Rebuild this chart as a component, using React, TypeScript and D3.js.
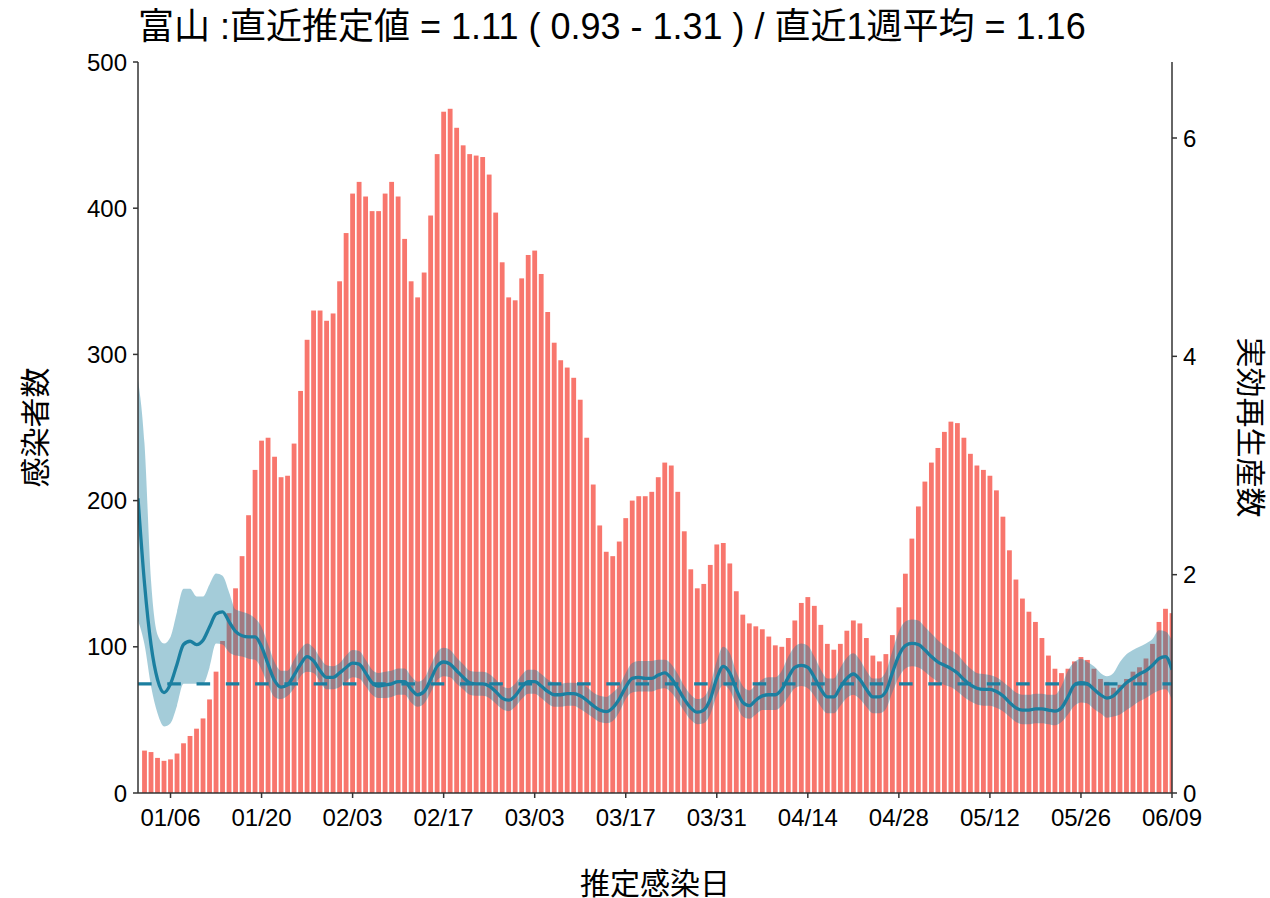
import React from "react";
import * as d3 from "d3";

// daily case counts by estimated infection date (2022), first bar = Jan 2
const casesJan = [29, 28, 24, 22, 23, 27, 34, 39, 44, 51, 64, 83, 104, 123, 140, 162, 190, 221, 241, 243, 230, 216, 217, 239, 275, 310, 330, 330, 323, 328];
const casesFeb = [350, 383, 410, 418, 408, 398, 398, 410, 418, 408, 379, 350, 339, 356, 395, 437, 466, 468, 455, 443, 437, 436, 435, 423, 397, 363, 339, 337];
const casesMar = [352, 368, 371, 355, 329, 308, 296, 291, 284, 269, 243, 211, 183, 165, 162, 172, 188, 200, 203, 203, 206, 216, 226, 224, 206, 179, 153, 140, 143, 156, 170];
const casesApr = [171, 157, 138, 122, 116, 114, 112, 107, 101, 100, 106, 118, 130, 134, 128, 115, 102, 98, 102, 111, 118, 116, 106, 94, 90, 95, 108, 127, 150, 174];
const casesMay = [196, 213, 226, 236, 247, 254, 253, 243, 232, 224, 221, 217, 207, 189, 166, 146, 133, 124, 117, 106, 94, 85, 82, 85, 90, 93, 91, 85, 78, 76, 72];
const casesJun = [74, 78, 83, 86, 92, 102, 117, 126, 123];

// effective reproduction number, daily from Jan 1 to Jun 9
const rtMid = [
  2.70, 1.92, 1.36, 1.04, 0.92, 1.00, 1.18, 1.36, 1.39, 1.36, 1.40, 1.52, 1.64, 1.66, 1.57, 1.48, 1.44, 1.43, 1.43, 1.34, 1.18, 1.03, 0.97, 0.99, 1.08, 1.18, 1.25, 1.21, 1.12, 1.06, 1.06,
  1.10, 1.15, 1.19, 1.18, 1.10, 1.01, 0.98, 0.99, 1.00, 1.02, 1.02, 0.95, 0.90, 0.93, 1.04, 1.16, 1.20, 1.18, 1.12, 1.06, 1.01, 1.00, 1.00, 0.98, 0.93, 0.87, 0.85, 0.89,
  0.97, 1.02, 1.02, 0.98, 0.93, 0.90, 0.90, 0.91, 0.91, 0.89, 0.85, 0.80, 0.76, 0.745, 0.78, 0.86, 0.97, 1.05, 1.06, 1.05, 1.05, 1.08, 1.10, 1.05, 0.96, 0.86, 0.78, 0.74, 0.76, 0.86, 1.05,
  1.16, 1.10, 0.95, 0.83, 0.80, 0.85, 0.89, 0.90, 0.90, 0.95, 1.06, 1.15, 1.17, 1.15, 1.06, 0.95, 0.88, 0.88, 0.97, 1.05, 1.09, 1.04, 0.95, 0.88, 0.88, 0.93, 1.10, 1.26, 1.35, 1.37,
  1.36, 1.31, 1.25, 1.20, 1.17, 1.14, 1.10, 1.04, 0.99, 0.96, 0.95, 0.95, 0.93, 0.89, 0.83, 0.78, 0.76, 0.76, 0.77, 0.77, 0.76, 0.75, 0.78, 0.88, 0.99, 1.01, 1.00, 0.95, 0.90, 0.87, 0.89,
  0.95, 1.01, 1.05, 1.09, 1.12, 1.17, 1.23, 1.25, 1.13,
];
const rtLow = [
  1.58, 1.36, 0.98, 0.73, 0.61, 0.64, 0.80, 1.00, 1.00, 1.00, 1.00, 1.15, 1.37, 1.36, 1.29, 1.26, 1.25, 1.23, 1.22, 1.13, 0.99, 0.88, 0.86, 0.89, 0.96, 1.07, 1.11, 1.10, 1.02, 0.95, 0.95,
  0.97, 1.02, 1.06, 1.05, 0.98, 0.90, 0.87, 0.87, 0.88, 0.90, 0.90, 0.83, 0.79, 0.82, 0.92, 1.03, 1.07, 1.06, 1.00, 0.95, 0.90, 0.89, 0.89, 0.87, 0.82, 0.77, 0.75, 0.79,
  0.86, 0.91, 0.91, 0.87, 0.82, 0.79, 0.79, 0.80, 0.80, 0.77, 0.73, 0.69, 0.65, 0.64, 0.66, 0.74, 0.86, 0.92, 0.93, 0.93, 0.93, 0.95, 0.96, 0.92, 0.84, 0.75, 0.67, 0.63, 0.64, 0.72, 0.89,
  0.99, 0.94, 0.81, 0.70, 0.68, 0.72, 0.76, 0.76, 0.76, 0.80, 0.88, 0.96, 0.98, 0.96, 0.89, 0.79, 0.73, 0.73, 0.80, 0.87, 0.90, 0.86, 0.79, 0.73, 0.73, 0.77, 0.92, 1.06, 1.14, 1.16,
  1.15, 1.11, 1.06, 1.02, 0.99, 0.97, 0.93, 0.88, 0.84, 0.81, 0.80, 0.80, 0.78, 0.75, 0.70, 0.65, 0.63, 0.63, 0.64, 0.64, 0.63, 0.62, 0.65, 0.72, 0.80, 0.83, 0.82, 0.77, 0.73, 0.69, 0.70,
  0.72, 0.76, 0.80, 0.84, 0.87, 0.91, 0.94, 0.95, 0.85,
];
const rtHigh = [
  3.78, 3.20, 1.95, 1.45, 1.37, 1.43, 1.66, 1.87, 1.87, 1.80, 1.80, 1.91, 2.01, 1.99, 1.84, 1.68, 1.66, 1.64, 1.60, 1.52, 1.36, 1.20, 1.12, 1.12, 1.22, 1.32, 1.37, 1.33, 1.24, 1.17, 1.16,
  1.19, 1.26, 1.31, 1.30, 1.22, 1.13, 1.10, 1.11, 1.12, 1.14, 1.14, 1.07, 1.02, 1.05, 1.17, 1.29, 1.33, 1.31, 1.24, 1.18, 1.12, 1.11, 1.11, 1.09, 1.04, 0.98, 0.96, 1.00,
  1.08, 1.13, 1.13, 1.09, 1.04, 1.01, 1.00, 1.01, 1.01, 1.00, 0.97, 0.92, 0.89, 0.88, 0.92, 0.98, 1.10, 1.19, 1.21, 1.21, 1.21, 1.22, 1.22, 1.18, 1.09, 0.98, 0.90, 0.86, 0.88, 0.99, 1.21,
  1.34, 1.28, 1.11, 0.98, 0.94, 0.99, 1.04, 1.06, 1.06, 1.12, 1.25, 1.34, 1.37, 1.35, 1.25, 1.13, 1.05, 1.05, 1.15, 1.24, 1.28, 1.22, 1.12, 1.05, 1.05, 1.11, 1.30, 1.48, 1.57, 1.59,
  1.58, 1.52, 1.46, 1.40, 1.35, 1.31, 1.27, 1.20, 1.14, 1.10, 1.09, 1.08, 1.06, 1.02, 0.97, 0.92, 0.90, 0.90, 0.91, 0.91, 0.90, 0.90, 0.98, 1.12, 1.20, 1.23, 1.20, 1.16, 1.10, 1.07, 1.10,
  1.20, 1.27, 1.31, 1.34, 1.37, 1.41, 1.49, 1.48, 1.40,
];

const xTickLabels = ["01/06", "01/20", "02/03", "02/17", "03/03", "03/17", "03/31", "04/14", "04/28", "05/12", "05/26", "06/09"];
const leftTicks = [0, 100, 200, 300, 400, 500];
const rightTicks = [0, 2, 4, 6];

const titleText = "富山 :直近推定値 = 1.11 ( 0.93 - 1.31 ) / 直近1週平均 = 1.16";
const yLeftTitle = "感染者数";
const yRightTitle = "実効再生産数";
const xTitle = "推定感染日";

const YEAR = 2022;
const FONT = "'Liberation Sans', Arial, 'Noto Sans CJK JP', sans-serif";
const BAR = "#F8766D";
const LINE = "#1b7fa0";
const AXIS = "#333333";

const day = (m: number, d: number) => new Date(Date.UTC(YEAR, m, d));

export default function App() {
  const left = 138, right = 1172, top = 62, bottom = 793;

  const x = d3.scaleUtc().domain([day(0, 1), day(5, 9)]).range([left, right]);
  const yL = d3.scaleLinear().domain([0, 500]).range([bottom, top]);
  const yR = d3.scaleLinear().domain([0, 6]).range([bottom, 138]);

  const months = [casesJan, casesFeb, casesMar, casesApr, casesMay, casesJun];
  const bars = months.flatMap((arr, m) =>
    arr.map((v, i) => ({ date: day(m, (m === 0 ? 2 : 1) + i), v }))
  );

  const rt = rtMid.map((v, i) => ({
    date: d3.utcDay.offset(day(0, 1), i),
    mid: v,
    lo: rtLow[i],
    hi: rtHigh[i],
  }));

  const step = x(day(0, 2)) - x(day(0, 1));
  const bw = step * 0.74;

  const area = d3
    .area<any>()
    .x((d) => x(d.date))
    .y0((d) => yR(d.lo))
    .y1((d) => yR(d.hi))
    .curve(d3.curveMonotoneX);
  const line = d3
    .line<any>()
    .x((d) => x(d.date))
    .y((d) => yR(d.mid))
    .curve(d3.curveMonotoneX);

  const xTicks = xTickLabels.map((s) => {
    const [mm, dd] = s.split("/").map(Number);
    return { label: s, date: day(mm - 1, dd) };
  });

  return (
    <svg
      width={1270}
      height={898}
      style={{ position: "absolute", left: 0, top: 0, background: "#fff" }}
      fontFamily={FONT}
    >
      <defs>
        <clipPath id="plot">
          <rect x={left} y={top} width={right - left} height={bottom - top} />
        </clipPath>
      </defs>

      <g clipPath="url(#plot)">
        {bars.map((b, i) => (
          <rect
            key={i}
            x={x(b.date) - bw / 2}
            y={yL(b.v)}
            width={bw}
            height={yL(0) - yL(b.v)}
            fill={BAR}
          />
        ))}
        <path d={area(rt) || ""} fill={LINE} fillOpacity={0.4} />
        <line
          x1={left}
          x2={right}
          y1={yR(1)}
          y2={yR(1)}
          stroke={LINE}
          strokeWidth={3.2}
          strokeDasharray="13.6 15.67"
        />
        <path d={line(rt) || ""} fill="none" stroke={LINE} strokeWidth={3.3} />
      </g>

      {/* axes */}
      <g stroke={AXIS} strokeWidth={1.5}>
        <line x1={left} x2={left} y1={top} y2={bottom} />
        <line x1={right} x2={right} y1={top} y2={bottom} />
        <line x1={left} x2={right} y1={bottom} y2={bottom} />
        {leftTicks.map((t) => (
          <line key={t} x1={left - 5} x2={left} y1={yL(t)} y2={yL(t)} />
        ))}
        {rightTicks.map((t) => (
          <line key={t} x1={right} x2={right + 5} y1={yR(t)} y2={yR(t)} />
        ))}
        {xTicks.map((t) => (
          <line key={t.label} x1={x(t.date)} x2={x(t.date)} y1={bottom} y2={bottom + 5} />
        ))}
      </g>

      <g fontSize={24} fill="#000">
        {leftTicks.map((t) => (
          <text key={t} x={left - 11} y={yL(t) + 8.6} textAnchor="end">
            {t}
          </text>
        ))}
        {rightTicks.map((t) => (
          <text key={t} x={right + 11} y={yR(t) + 8.6} textAnchor="start">
            {t}
          </text>
        ))}
        {xTicks.map((t) => (
          <text key={t.label} x={x(t.date)} y={bottom + 33} textAnchor="middle">
            {t.label}
          </text>
        ))}
      </g>

      <text x={left} y={39} fontSize={36} fill="#000">
        {titleText}
      </text>
      <text
        transform={`translate(35,${(top + bottom) / 2}) rotate(-90)`}
        fontSize={30}
        textAnchor="middle"
        dominantBaseline="central"
      >
        {yLeftTitle}
      </text>
      <text
        transform={`translate(1250,${(top + bottom) / 2}) rotate(90)`}
        fontSize={30}
        textAnchor="middle"
        dominantBaseline="central"
      >
        {yRightTitle}
      </text>
      <text
        x={(left + right) / 2}
        y={883}
        fontSize={30}
        textAnchor="middle"
        dominantBaseline="central"
      >
        {xTitle}
      </text>
    </svg>
  );
}
